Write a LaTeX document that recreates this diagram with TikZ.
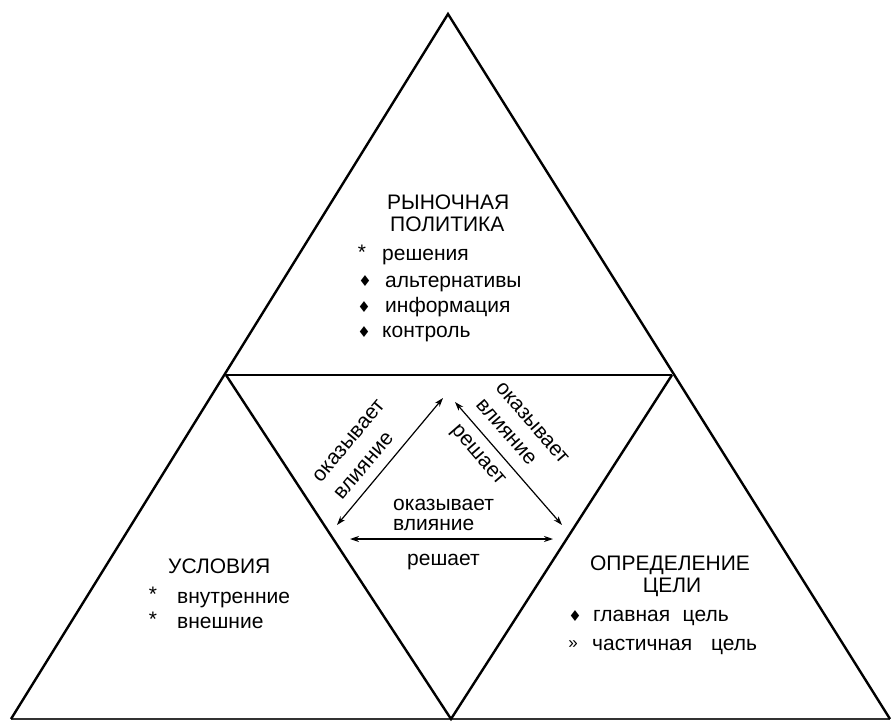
\documentclass[tikz,border=0pt]{standalone}
\usepackage{fontspec}
\setmainfont{Liberation Sans}
\newfontfamily\symfont{DejaVu Sans}
\usetikzlibrary{arrows.meta}
\tikzset{
  edge/.style={line width=2.4pt, line join=miter},
  midline/.style={line width=1.8pt},
  baseline/.style={line width=1.3pt, draw=black!80},
  rel/.style={line width=1.2pt, {Stealth[length=9pt,width=6pt]}-{Stealth[length=9pt,width=6pt]}},
  txt/.style={inner sep=0pt, anchor=base west, font=\fontsize{21}{25}\selectfont},
  ctxt/.style={inner sep=0pt, anchor=base, font=\fontsize{21}{25}\selectfont},
  rtxt/.style={inner sep=0pt, anchor=center, font=\fontsize{21}{25}\selectfont},
  bul/.style={inner sep=0pt, anchor=center, font=\symfont\fontsize{15}{17}\selectfont},
  ast/.style={inner sep=0pt, anchor=center, font=\fontsize{21}{25}\selectfont}
}
\begin{document}
\begin{tikzpicture}[x=1pt,y=-1pt]
\useasboundingbox (0,0) rectangle (891,722);
% vertices
\coordinate (A) at (448,14);
\coordinate (BL) at (11,719);
\coordinate (BR) at (890,719);
\coordinate (ML) at (226,375);
\coordinate (MR) at (672,375);
\coordinate (MB) at (451,719);
% outline
\draw[baseline] (BL) -- (BR);
\draw[edge] (BL) -- (A) -- (BR);
\draw[midline] (ML) -- (MR);
\draw[edge] (ML) -- (MB) -- (MR);

% top triangle text
\node[txt] (t1) at (387,209) {РЫНОЧНАЯ};
\node[txt] (t2) at (390,231) {ПОЛИТИКА};
\node[ast] (s1) at (362,252) {*};
\node[txt] (p1) at (382,260) {решения};
\node[bul] (d1) at (365,281) {♦};
\node[txt] (p2) at (385,287) {альтернативы};
\node[bul] (d2) at (364,307) {♦};
\node[txt] (p3) at (385,312) {информация};
\node[bul] (d3) at (364,332) {♦};
\node[txt] (p4) at (382,337) {контроль};

% left triangle text
\node[txt] (u0) at (168,573) {УСЛОВИЯ};
\node[ast] (s2) at (153,594) {*};
\node[txt] (u1) at (177,603) {внутренние};
\node[ast] (s3) at (153,619) {*};
\node[txt] (u2) at (177,628) {внешние};

% right triangle text
\node[ctxt] (g0) at (670,570) {ОПРЕДЕЛЕНИЕ};
\node[ctxt] (g1) at (672,592) {ЦЕЛИ};
\node[bul] (d4) at (575,616) {♦};
\node[txt] (g2) at (593,621) {главная\hspace{0.6em}цель};
\node[inner sep=0pt, anchor=center, font=\fontsize{17}{20}\selectfont] (q1) at (573,645) {»};
\node[txt] (g3) at (592,650) {частичная\hspace{0.9em}цель};

% relations
\coordinate (La) at (443,398);
\coordinate (Lb) at (337,525);
\coordinate (Ra) at (455,402);
\coordinate (Rb) at (562,525);
\coordinate (Ba) at (350,539);
\coordinate (Bb) at (553,539);
\draw[rel] (Lb) -- (La);
\draw[rel] (Ra) -- (Rb);
\draw[rel] (Ba) -- (Bb);

\node[rtxt, rotate=50] (l1) at (349,441) {оказывает};
\node[rtxt, rotate=50] (l2) at (364,466) {влияние};
\node[rtxt, rotate=-49] (r1) at (532,423) {оказывает};
\node[rtxt, rotate=-49] (r2) at (506,432) {влияние};
\node[rtxt, rotate=-49] (r3) at (477,456) {решает};
\node[txt] (b1) at (393,510) {оказывает};
\node[txt] (b2) at (393,530) {влияние};
\node[txt] (b3) at (407,565) {решает};
\end{tikzpicture}
\end{document}
